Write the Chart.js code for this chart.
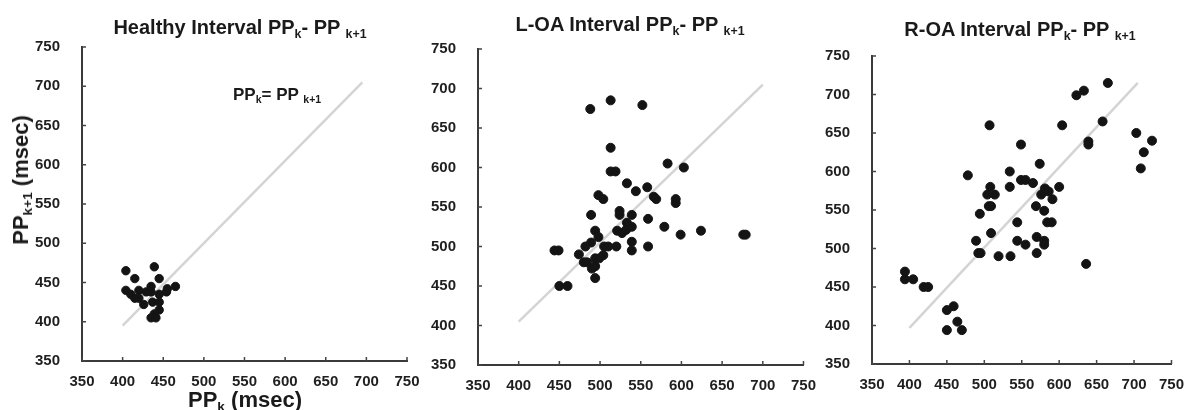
<!DOCTYPE html>
<html>
<head>
<meta charset="utf-8">
<script src="https://cdn.jsdelivr.net/npm/chart.js@4/dist/chart.umd.min.js"></script>
<style>
  html,body{margin:0;padding:0;background:#fff;}
  #wrap{position:relative;width:1188px;height:410px;overflow:hidden;font-family:'Liberation Sans',Arial,sans-serif;font-weight:bold;color:#1a1a1a;}
  .box{position:absolute;top:0;height:410px;}
  .txt{position:absolute;white-space:nowrap;line-height:1;}
  .txt sub{font-size:0.62em;vertical-align:-0.32em;line-height:0;}
  .ttl{font-size:20px;transform:translateX(-50%);}
</style>
</head>
<body>
<div id="wrap">
  <div class="box" style="left:0;width:430px"><canvas id="c1"></canvas></div>
  <div class="box" style="left:400px;width:420px"><canvas id="c2"></canvas></div>
  <div class="box" style="left:800px;width:388px"><canvas id="c3"></canvas></div>

  <div class="txt ttl" style="left:240px;top:17px">Healthy Interval PP<sub>k</sub>- PP <sub>k+1</sub></div>
  <div class="txt ttl" style="left:630px;top:14px">L-OA Interval PP<sub>k</sub>- PP <sub>k+1</sub></div>
  <div class="txt ttl" style="left:1020px;top:19px">R-OA Interval PP<sub>k</sub>- PP <sub>k+1</sub></div>
  <div class="txt" style="left:233px;top:86px;font-size:17px">PP<sub>k</sub>= PP <sub>k+1</sub></div>
  <div class="txt" style="left:21px;top:180px;font-size:22px;transform:translate(-50%,-50%) rotate(-90deg)">PP<sub>k+1</sub> (msec)</div>
  <div class="txt" style="left:245px;top:389px;font-size:22px;transform:translateX(-50%)">PP<sub>k</sub> (msec)</div>
</div>
<script>
/* PP interval return maps: healthy, L-OA, R-OA */
const axisMin=350, axisMax=750, axisStep=50;

const healthyX=[404,415,439,445,404,410,415,420,420,429,435,435,426,437,445,445,445,439,435,441,455,465,454];
const healthyY=[465,455,470,455,440,435,430,440,430,438,445,438,422,425,435,425,415,410,405,405,442,445,438];

const loaX=[488,513,552,513,513,519,533,544,583,603,558,566,569,593,593,498,504,489,524,524,539,559,579,599,624,676,679,494,489,498,505,510,520,539,539,539,559,533,521,527,532,482,474,480,484,490,494,494,494,499,504,444,449,450,460];
const loaY=[674,685,679,625,595,595,580,570,605,600,575,563,560,560,555,565,560,540,545,540,540,535,525,515,520,515,515,520,505,512,500,500,500,525,506,495,500,530,520,517,521,500,490,480,480,472,475,460,485,485,489,495,495,450,450];

const roaX=[665,623,633,507,604,658,639,639,549,703,713,724,709,478,534,574,534,549,555,565,576,581,586,591,600,508,504,514,506,509,494,569,580,544,584,590,509,489,492,495,519,535,544,555,570,580,580,570,636,394,394,405,419,425,450,459,464,450,470];
const roaY=[715,699,705,660,660,665,639,635,635,650,625,640,604,595,600,610,580,589,589,585,570,578,574,564,580,580,570,570,555,555,545,555,549,534,534,534,520,510,494,494,490,490,510,505,515,510,505,494,480,470,460,460,450,450,420,425,405,394,394];

// identity line PPk = PPk+1 as drawn in each panel
const healthyDiagX=[400,695], healthyDiagY=[395,705];
const loaDiagX=[400,700], loaDiagY=[405,705];
const roaDiagX=[400,705], roaDiagY=[397,715];

function pts(xs,ys){return xs.map(function(x,i){return{x:x,y:ys[i]};});}

const inTicks={id:'inTicks',afterDraw:function(c){
  const ctx=c.ctx,xs=c.scales.x,ys=c.scales.y;
  ctx.save();ctx.strokeStyle='#444';ctx.lineWidth=1.5;ctx.beginPath();
  xs.ticks.forEach(function(t){const p=xs.getPixelForValue(t.value);ctx.moveTo(p,xs.top);ctx.lineTo(p,xs.top-4);});
  ys.ticks.forEach(function(t){const p=ys.getPixelForValue(t.value);ctx.moveTo(ys.right,p);ctx.lineTo(ys.right+4,p);});
  ctx.stroke();ctx.restore();
}};

function makeChart(id,xs,ys,dx,dy,pad,rad){
  const tickFont={family:"'Liberation Sans', Arial, sans-serif",size:15,weight:'bold'};
  return new Chart(document.getElementById(id),{
    type:'scatter',
    data:{datasets:[
      {data:pts(xs,ys),backgroundColor:'#141414',borderColor:'#141414',pointRadius:rad,pointHoverRadius:rad,order:0},
      {data:pts(dx,dy),showLine:true,borderColor:'#d4d4d4',borderWidth:2.5,pointRadius:0,order:1}
    ]},
    options:{responsive:true,maintainAspectRatio:false,animation:false,
      layout:{padding:pad},
      plugins:{legend:{display:false},tooltip:{enabled:false}},
      scales:{
        x:{type:'linear',min:axisMin,max:axisMax,afterFit:function(s){s.height=30;},
          ticks:{stepSize:axisStep,color:'#1f1f1f',font:tickFont,padding:4,maxRotation:0},
          grid:{display:false},border:{display:true,color:'#3a3a3a',width:2}},
        y:{type:'linear',min:axisMin,max:axisMax,afterFit:function(s){s.width=50;},
          ticks:{stepSize:axisStep,color:'#1f1f1f',font:tickFont,padding:14},
          grid:{display:false},border:{display:true,color:'#3a3a3a',width:2}}
      }},
    plugins:[inTicks]
  });
}

makeChart('c1',healthyX,healthyY,healthyDiagX,healthyDiagY,{left:32,right:23,top:47,bottom:19},4.2);
makeChart('c2',loaX,loaY,loaDiagX,loaDiagY,{left:28,right:14,top:49,bottom:15},4.5);
makeChart('c3',roaX,roaY,roaDiagX,roaDiagY,{left:22,right:13,top:56,bottom:16},4.5);
</script>
</body>
</html>
